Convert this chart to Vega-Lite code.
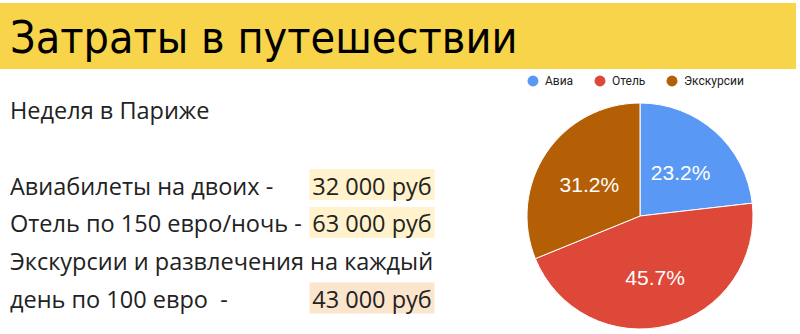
{
  "$schema": "https://vega.github.io/schema/vega-lite/v6.json",
  "background": "white",
  "padding": {"left": 0, "top": 3, "right": 0, "bottom": 0},
  "spacing": 6,
  "config": {"view": {"stroke": null}, "concat": {"spacing": 0}},
  "resolve": {"scale": {"color": "independent"}, "legend": {"color": "independent"}},
  "vconcat": [
    {
      "width": 796,
      "height": 66,
      "view": {"fill": "#F7D44A", "stroke": null},
      "data": {"values": [{"part": "title", "text": "Затраты в путешествии"}]},
      "mark": {"type": "text", "align": "left", "baseline": "middle", "dy": 4, "font": "DejaVu Sans Condensed", "fontSize": 44.5, "color": "#000000"},
      "encoding": {
        "x": {"field": "part", "type": "nominal", "axis": null, "scale": {"type": "point", "align": 0, "padding": 0, "range": [10, 796]}},
        "text": {"field": "text"}
      }
    },
    {
      "spacing": 0,
      "resolve": {"scale": {"color": "independent"}, "legend": {"color": "independent"}},
      "hconcat": [
        {
          "width": 525,
          "height": 226,
          "data": {
            "values": [
              {"row": 0, "label": "Неделя в Париже"},
              {"row": 2, "label": "Авиабилеты на двоих -", "cat": "Авиа", "amount": "32 000 руб"},
              {"row": 3, "label": "Отель по 150 евро/ночь -", "cat": "Отель", "amount": "63 000 руб"},
              {"row": 4, "label": "Экскурсии и развлечения на каждый"},
              {"row": 5, "label": "день по 100 евро\u00a0 -", "cat": "Экскурсии", "amount": "43 000 руб"}
            ]
          },
          "encoding": {
            "y": {"field": "row", "type": "ordinal", "axis": null, "scale": {"type": "point", "domain": [0, 1, 2, 3, 4, 5], "padding": 0, "range": [9, 198]}}
          },
          "layer": [
            {
              "transform": [{"filter": "isValid(datum.amount)"}],
              "mark": {"type": "rect", "width": 125, "height": 31, "yOffset": -3},
              "encoding": {
                "x": {"datum": "amount", "type": "nominal", "axis": null, "scale": {"type": "point", "domain": ["label", "amount"], "padding": 0, "range": [10, 372]}},
                "color": {"field": "cat", "type": "nominal", "legend": null, "scale": {"domain": ["Авиа", "Отель", "Экскурсии"], "range": ["#FFF2CC", "#FFF2CC", "#FCE5CD"]}}
              }
            },
            {
              "mark": {"type": "text", "align": "left", "baseline": "middle", "font": "Open Sans", "fontSize": 23.5, "color": "#222222"},
              "encoding": {
                "x": {"datum": "label", "type": "nominal"},
                "text": {"field": "label"}
              }
            },
            {
              "transform": [{"filter": "isValid(datum.amount)"}],
              "mark": {"type": "text", "align": "center", "baseline": "middle", "font": "Open Sans", "fontSize": 23.5, "color": "#222222"},
              "encoding": {
                "x": {"datum": "amount", "type": "nominal"},
                "text": {"field": "amount"}
              }
            }
          ],
          "resolve": {"scale": {"color": "independent"}}
        },
        {
          "width": 226,
          "height": 226,
          "data": {
            "values": [
              {"cat": "Авиа", "value": 32000, "pct": "23.2%"},
              {"cat": "Отель", "value": 63000, "pct": "45.7%"},
              {"cat": "Экскурсии", "value": 43000, "pct": "31.2%"}
            ]
          },
          "encoding": {
            "theta": {"field": "value", "type": "quantitative", "stack": true},
            "order": {"field": "cat", "type": "nominal"}
          },
          "layer": [
            {
              "mark": {"type": "arc", "outerRadius": 113, "stroke": "white", "strokeWidth": 1},
              "encoding": {
                "color": {
                  "field": "cat",
                  "type": "nominal",
                  "scale": {"domain": ["Авиа", "Отель", "Экскурсии"], "range": ["#5A98F6", "#DE4839", "#B45F06"]},
                  "legend": {
                    "title": null,
                    "orient": "top",
                    "direction": "horizontal",
                    "symbolType": "circle",
                    "symbolSize": 120,
                    "symbolStrokeWidth": 0,
                    "labelFont": "Roboto",
                    "labelFontSize": 12,
                    "labelColor": "#222222",
                    "labelOffset": 6,
                    "columnPadding": 20,
                    "offset": 16
                  }
                }
              }
            },
            {
              "mark": {"type": "text", "radius": 61, "dy": 4, "font": "Liberation Sans", "fontSize": 21, "color": "white"},
              "encoding": {"text": {"field": "pct"}}
            }
          ]
        }
      ]
    }
  ]
}
